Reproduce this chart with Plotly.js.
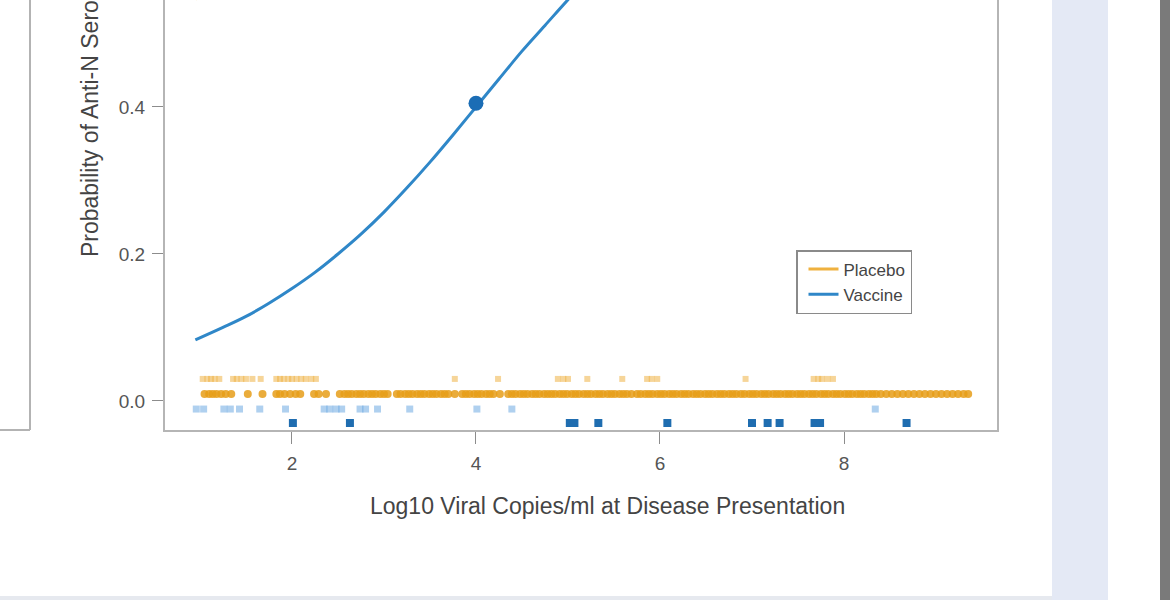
<!DOCTYPE html>
<html>
<head>
<meta charset="utf-8">
<script src="https://cdn.plot.ly/plotly-3.0.1.min.js"></script>
<style>
  html, body { margin: 0; padding: 0; width: 1170px; height: 600px; overflow: hidden; background: #ffffff; }
  #chart { position: absolute; left: 0; top: -300px; width: 1170px; height: 900px; z-index: 1; }
  #edge { position: fixed; right: 0; top: 0; width: 7px; height: 600px; background: #7a7a7a; z-index: 10; }
</style>
</head>
<body>
<div id="chart"></div>
<div id="edge"></div>
<script>
// ---- data ----
const seriesNames = ["Placebo", "Vaccine"];

// fitted curves (log10 viral copies/ml -> probability)
const vaccineCurveX = [0.95, 1.25, 1.5, 1.75, 2.0, 2.25, 2.5, 2.75, 3.0, 3.25, 3.5, 3.75, 4.0, 4.25, 4.5, 4.75, 5.0, 5.25, 5.5];
const vaccineCurveY = [0.083, 0.100, 0.115, 0.133, 0.153, 0.175, 0.200, 0.227, 0.257, 0.290, 0.325, 0.362, 0.400, 0.438, 0.476, 0.511, 0.546, 0.580, 0.615];
const placeboCurveX = [0.95, 1.5, 2.0, 3.0, 4.0, 5.0, 6.0, 7.0, 8.0, 9.4];
const placeboCurveY = [0.547, 0.580, 0.610, 0.670, 0.720, 0.770, 0.810, 0.850, 0.880, 0.910];

// highlighted point on the vaccine curve
const vaccinePointX = [4.0];
const vaccinePointY = [0.405];

// rug rows
const placeboUpperX = [1.03, 1.08, 1.12, 1.16, 1.21, 1.36, 1.40, 1.45, 1.50, 1.57, 1.66, 1.83, 1.87, 1.91, 1.96, 2.00, 2.05, 2.10, 2.15, 2.21, 2.26, 3.77, 4.24, 4.89, 4.95, 5.00, 5.21, 5.59, 5.86, 5.91, 5.97, 6.93, 7.67, 7.72, 7.76, 7.82, 7.88];
const placeboLowerX = [1.05, 1.10, 1.14, 1.18, 1.23, 1.28, 1.34, 1.52, 1.68, 1.83, 1.87, 1.92, 1.98, 2.04, 2.09, 2.24, 2.29, 2.37,
  2.52, 2.57, 2.61, 2.65, 2.70, 2.74, 2.78, 2.83, 2.87, 2.91, 2.96, 3.00, 3.04,
  3.14, 3.18, 3.23, 3.27, 3.31, 3.36, 3.40, 3.44, 3.49, 3.53, 3.57, 3.62, 3.66, 3.70, 3.77,
  3.85, 3.89, 3.93, 3.98, 4.02, 4.06, 4.11, 4.15, 4.19, 4.26,
  4.35, 4.39, 4.43, 4.48, 4.52, 4.56, 4.61, 4.65, 4.69, 4.74, 4.78, 4.82, 4.86, 4.91, 4.95, 4.99, 5.04, 5.08, 5.12, 5.17, 5.21, 5.25,
  5.30, 5.34, 5.38, 5.43, 5.47, 5.51, 5.56, 5.60, 5.64, 5.69,
  5.75, 5.79, 5.84, 5.88, 5.92, 5.97, 6.01, 6.05, 6.10, 6.14, 6.18, 6.23, 6.27, 6.31, 6.36, 6.40, 6.44, 6.49, 6.53, 6.57, 6.62, 6.66, 6.70, 6.75, 6.79, 6.83, 6.88, 6.92,
  6.97, 7.01, 7.05, 7.10, 7.14, 7.18, 7.23, 7.27, 7.31, 7.36, 7.40, 7.44, 7.49, 7.53, 7.57, 7.62, 7.66, 7.70, 7.75, 7.79, 7.83, 7.88, 7.92, 7.96,
  8.01, 8.05, 8.09, 8.14, 8.18, 8.22, 8.27, 8.31, 8.35, 8.40, 8.46, 8.52, 8.58, 8.64, 8.70, 8.76, 8.82, 8.88, 8.94, 9.00, 9.06, 9.12, 9.18, 9.24, 9.30, 9.35];
const vaccineLightX = [0.96, 1.04, 1.26, 1.33, 1.43, 1.65, 1.93, 2.35, 2.41, 2.48, 2.54, 2.74, 2.80, 2.93, 3.28, 4.01, 4.39, 8.34];
const vaccineDarkX = [2.01, 2.63, 5.02, 5.07, 5.33, 6.08, 7.00, 7.17, 7.30, 7.68, 7.74, 8.68];

// row levels of the rug strips (probability units)
const rowLevels = { placeboUpper: 0.030, placeboLower: 0.0095, vaccineLight: -0.011, vaccineDark: -0.030 };

const xTickVals = [2, 4, 6, 8];
const yTickVals = [0.0, 0.2, 0.4];
const yTickText = ["0.0", "0.2", "0.4"];

const xTitle = "Log10 Viral Copies/ml at Disease Presentation";
const yTitle = "Probability of Anti-N Seroconversion";

// ---- styling ----
const blue = "#2f87c8";
const font = "Liberation Sans, Arial, sans-serif";

const rowY = (xs, level) => xs.map(() => level);

const traces = [
  { x: placeboCurveX, y: placeboCurveY, type: "scatter", mode: "lines", name: seriesNames[0],
    line: { color: "#efb13f", width: 3, shape: "spline" } },
  { x: vaccineCurveX, y: vaccineCurveY, type: "scatter", mode: "lines", name: seriesNames[1],
    line: { color: blue, width: 3, shape: "spline" } },
  { x: vaccinePointX, y: vaccinePointY, type: "scatter", mode: "markers", showlegend: false,
    marker: { color: "#1b6db5", size: 15 } },
  { x: placeboUpperX, y: rowY(placeboUpperX, rowLevels.placeboUpper), type: "scatter", mode: "markers", showlegend: false,
    marker: { color: "rgba(238,178,70,0.55)", size: 6, symbol: "square" } },
  { x: placeboLowerX, y: rowY(placeboLowerX, rowLevels.placeboLower), type: "scatter", mode: "markers", showlegend: false,
    marker: { color: "rgba(230,158,25,0.85)", size: 8, symbol: "circle" } },
  { x: vaccineLightX, y: rowY(vaccineLightX, rowLevels.vaccineLight), type: "scatter", mode: "markers", showlegend: false,
    marker: { color: "rgba(110,170,225,0.55)", size: 7, symbol: "square" } },
  { x: vaccineDarkX, y: rowY(vaccineDarkX, rowLevels.vaccineDark), type: "scatter", mode: "markers", showlegend: false,
    marker: { color: "#1f6db0", size: 8, symbol: "square" } }
];

// screen pixel -> paper coordinates (for page decorations around the crop)
const L = 165, T = 16, W = 832, H = 714, OFF = 300, FULLH = 900;
const px = sx => (sx - L) / W;
const py = sy => (T + H - (sy + OFF)) / H;

const shapes = [
  // remnant of left neighbouring panel frame
  { type: "line", xref: "paper", yref: "paper", x0: px(30), x1: px(30), y0: py(0), y1: py(430), line: { color: "#b3b3b3", width: 2 } },
  { type: "line", xref: "paper", yref: "paper", x0: px(0), x1: px(30), y0: py(430), y1: py(430), line: { color: "#b3b3b3", width: 2 } },
  // page background strips on the right and bottom
  { type: "rect", xref: "paper", yref: "paper", x0: px(1052), x1: px(1108), y0: py(0), y1: py(600), fillcolor: "#e4e9f5", line: { width: 0 }, layer: "below" },
  { type: "rect", xref: "paper", yref: "paper", x0: px(1160), x1: px(1169.5), y0: py(0), y1: py(600), fillcolor: "#7a7a7a", line: { width: 0 }, layer: "above" },
  { type: "rect", xref: "paper", yref: "paper", x0: px(0), x1: px(1052), y0: py(596), y1: py(600), fillcolor: "#e6e9ef", line: { width: 0 }, layer: "below" }
];

// x-axis title is centred on the whole figure (outer-margin style), not on the plot area
const annotations = [
  { text: xTitle, xref: "paper", yref: "paper", x: px(607), y: py(506), xanchor: "center", yanchor: "middle",
    showarrow: false, font: { size: 23, color: "#444444", family: font } }
];

const layout = {
  width: 1170, height: FULLH,
  margin: { l: L, r: 1170 - L - W, t: T, b: FULLH - T - H },
  paper_bgcolor: "#ffffff", plot_bgcolor: "#ffffff",
  font: { family: font, color: "#444444", size: 13 },
  showlegend: true,
  xaxis: {
    range: [0.62, 9.663], tickvals: xTickVals, ticktext: xTickVals.map(String),
    showgrid: false, zeroline: false, showline: true, mirror: true, linecolor: "#b5b5b5", linewidth: 2,
    ticks: "outside", ticklen: 12, tickcolor: "#8c8c8c", tickwidth: 1, ticklabelstandoff: 3,
    tickfont: { size: 19, color: "#555555", family: font }
  },
  yaxis: {
    range: [-0.0395, 0.932], tickvals: yTickVals, ticktext: yTickText,
    showgrid: false, zeroline: false, showline: true, mirror: true, linecolor: "#b5b5b5", linewidth: 2,
    ticks: "outside", ticklen: 11, tickcolor: "#8c8c8c", tickwidth: 1, ticklabelstandoff: 3,
    tickfont: { size: 19, color: "#555555", family: font },
    title: { text: yTitle, font: { size: 23, color: "#444444", family: font }, standoff: 14 }
  },
  legend: {
    x: px(796), y: py(250), xanchor: "left", yanchor: "top",
    bgcolor: "#ffffff", bordercolor: "#8a8a8a", borderwidth: 1.5,
    font: { size: 17, color: "#444444", family: font },
    itemwidth: 30, tracegroupgap: 0, indentation: 6
  },
  shapes: shapes,
  annotations: annotations
};

Plotly.newPlot("chart", traces, layout, { staticPlot: true, displayModeBar: false });
</script>
</body>
</html>
